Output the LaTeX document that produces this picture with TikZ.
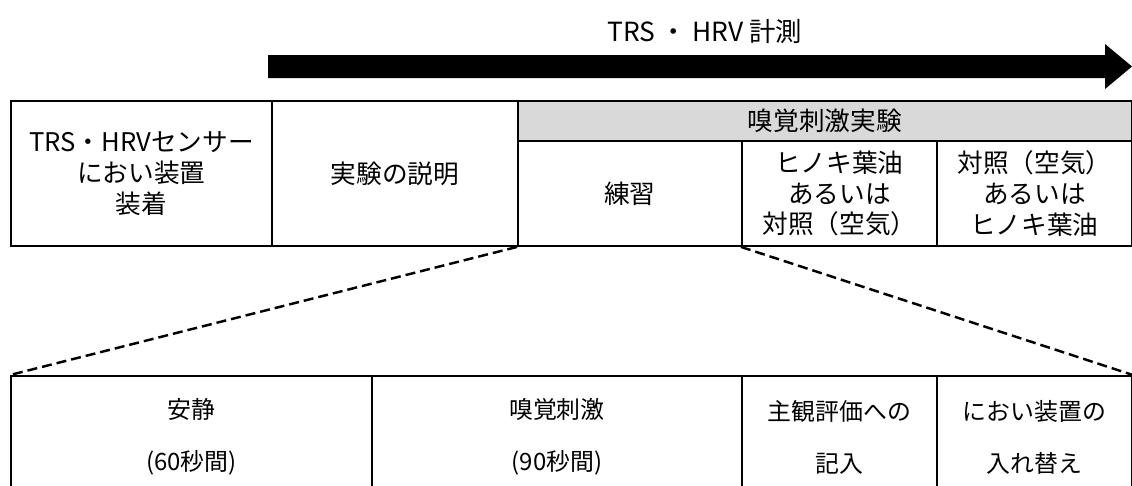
\documentclass[tikz,border=0pt]{standalone}
\usepackage{fontspec}
\setmainfont{Noto Sans CJK JP}
\definecolor{hdrgray}{HTML}{D9D9D9}
\begin{document}
\begin{tikzpicture}[x=0.02cm,y=-0.02cm,
  cell/.style={draw=black,line width=1.1pt,inner sep=0pt,anchor=north west,align=center,
    font=\fontsize{14.6pt}{17.5pt}\selectfont},
  lowcell/.style={draw=black,line width=1.1pt,inner sep=0pt,anchor=north west,align=center,
    minimum height=2.44cm,font=\fontsize{13.6pt}{29.6pt}\selectfont},
  zoomline/.style={line width=1.4pt,dash pattern=on 0.2cm off 0.1cm}]
\useasboundingbox (0,0) rectangle (1132,485);
\clip (0,0) rectangle (1132,485);
% title and arrow
\node[font=\fontsize{15pt}{18pt}\selectfont] (title) at (705,32) {TRS\hspace{0.2em}・\hspace{0.2em}HRV 計測};
\fill[black] (268,55) -- (1105,55) -- (1105,44) -- (1132,66.5) -- (1105,89) -- (1105,78) -- (268,78) -- cycle;
% upper table
\node[cell,minimum width=5.22cm,minimum height=2.9cm] (c1) at (10,100) {TRS・HRVセンサー\\におい装置\\装着};
\node[cell,minimum width=4.92cm,minimum height=2.9cm] (c2) at (271,100) {実験の説明};
\node[cell,fill=hdrgray,minimum width=12.28cm,minimum height=0.8cm] (hdr) at (517,100) {嗅覚刺激実験};
\node[cell,minimum width=4.48cm,minimum height=2.1cm] (c3) at (517,140) {練習};
\node[cell,minimum width=3.9cm,minimum height=2.1cm] (c4) at (741,140) {ヒノキ葉油\\あるいは\\対照（空気）};
\node[cell,minimum width=3.9cm,minimum height=2.1cm] (c5) at (936,140) {対照（空気）\\あるいは\\ヒノキ葉油};
% lower table
\node[lowcell,minimum width=7.22cm] (d1) at (10,375) {安静\\(60秒間)};
\node[lowcell,minimum width=7.4cm] (d2) at (371,375) {嗅覚刺激\\(90秒間)};
\node[lowcell,minimum width=3.9cm] (d3) at (741,375) {主観評価への\\記入};
\node[lowcell,minimum width=3.9cm] (d4) at (936,375) {におい装置の\\入れ替え};
% zoom lines
\draw[zoomline] (c3.south west) -- (d1.north west);
\draw[zoomline] (c4.south west) -- (d4.north east);
\end{tikzpicture}
\end{document}
